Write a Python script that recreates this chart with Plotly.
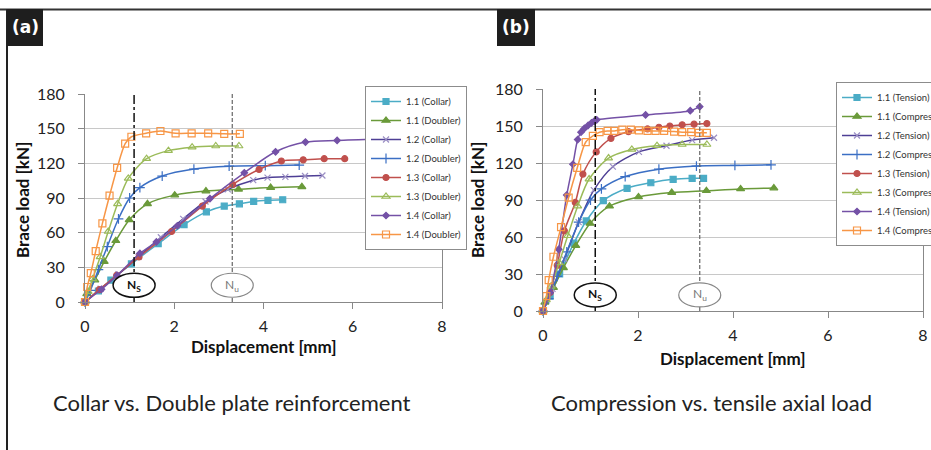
import plotly.graph_objects as go

W, H = 931, 450

# ---------------- Panel (a): Collar vs. Doubler ----------------
a_11c_x = [0, 0.3, 0.58, 1.04, 1.64, 2.22, 2.72, 3.12, 3.46, 3.78, 4.1, 4.43]
a_11c_y = [0, 9.5, 19, 33, 50.5, 67, 78, 83, 85, 87, 88, 88.5]
a_11d_x = [0, 0.04, 0.22, 0.43, 0.69, 0.99, 1.4, 2.01, 2.71, 3.44, 4.16, 4.86]
a_11d_y = [0, 7, 19, 35, 53, 71, 85, 92.5, 96, 97.5, 99, 99.7]
a_12c_x = [0, 0.35, 0.75, 1.2, 1.7, 2.2, 2.7, 3.2, 3.77, 4.09, 4.49, 4.93, 5.32]
a_12c_y = [0, 11.5, 24, 39, 56, 72, 87, 97.5, 105.4, 107.7, 108.3, 109, 109.5]
a_12d_x = [0, 0.12, 0.3, 0.5, 0.75, 1.0, 1.23, 1.73, 2.44, 3.23, 4.04, 4.8]
a_12d_y = [0, 10, 28, 48, 72, 90, 99, 109, 115, 117.5, 118, 118.5]
a_13c_x = [0, 0.32, 0.71, 1.21, 1.94, 2.63, 3.31, 3.9, 4.4, 4.89, 5.36, 5.82]
a_13c_y = [0, 10.7, 23, 39, 61, 83, 101.7, 114.7, 122, 123, 124, 124]
a_13d_x = [0, 0.07, 0.17, 0.34, 0.52, 0.73, 0.97, 1.38, 1.87, 2.4, 2.93, 3.45]
a_13d_y = [0, 9, 20, 39, 61, 85, 107, 124, 131, 134, 135, 135]
a_14c_x = [0, 0.37, 0.72, 1.23, 1.6, 2.07, 2.8, 3.57, 4.27, 4.94, 5.65, 6.6]
a_14c_y = [0, 11, 23, 42, 52, 66, 89.5, 111.8, 130, 138.4, 139.8, 141]
a_14d_x = [0, 0.05, 0.13, 0.24, 0.39, 0.55, 0.72, 0.9, 1.04, 1.37, 1.69, 2.03, 2.39, 2.76, 3.12, 3.47]
a_14d_y = [0, 13, 25, 44, 68, 92, 116, 137, 143, 146, 148, 146, 146, 146, 145.5, 145.5]

# ---------------- Panel (b): Tension vs. Compression ----------------
b_11t_x = [0, 0.15, 0.35, 0.65, 0.91, 1.27, 1.77, 2.27, 2.74, 3.14, 3.38]
b_11t_y = [0, 12, 30, 55, 73, 89.5, 99.5, 104, 106.8, 107.6, 107.6]
b_11c_x = [0, 0.04, 0.22, 0.43, 0.69, 0.99, 1.4, 2.01, 2.71, 3.44, 4.16, 4.86]
b_11c_y = [0, 7, 19, 35, 53, 71, 85, 92.5, 96, 97.5, 99, 99.7]
b_12t_x = [0, 0.2, 0.45, 0.75, 1.07, 1.47, 2.02, 2.6, 3.14, 3.6]
b_12t_y = [0, 18, 42, 72, 98, 117, 129, 134, 138.6, 140.5]
b_12c_x = [0, 0.12, 0.3, 0.5, 0.75, 1.0, 1.23, 1.73, 2.44, 3.23, 4.04, 4.8]
b_12c_y = [0, 10, 28, 48, 72, 90, 99, 109, 115, 117.5, 118, 118.5]
b_13t_x = [0, 0.15, 0.3, 0.45, 0.68, 0.84, 1.12, 1.43, 1.8, 2.2, 2.44, 2.67, 2.93, 3.18, 3.45]
b_13t_y = [0, 15, 37, 65, 88, 111, 129, 140, 145.4, 147.6, 149, 150, 151, 151.5, 152]
b_13c_x = [0, 0.07, 0.17, 0.34, 0.52, 0.73, 0.97, 1.38, 1.87, 2.4, 2.93, 3.45]
b_13c_y = [0, 9, 20, 39, 61, 85, 107, 124, 131, 134, 135, 135]
b_14t_x = [0, 0.15, 0.33, 0.5, 0.63, 0.73, 0.8, 0.87, 0.95, 1.02, 1.08, 1.13, 2.16, 3.1, 3.3]
b_14t_y = [0, 15, 50, 94, 119, 139, 145, 148, 150.5, 152.5, 154, 155, 159, 162.4, 165.7]
b_14c_x = [0, 0.07, 0.12, 0.22, 0.38, 0.54, 0.72, 0.9, 1.05, 1.19, 1.36, 1.5, 1.67, 1.85, 2.02,
           2.2, 2.37, 2.55, 2.76, 2.93, 3.12, 3.28, 3.45]
b_14c_y = [0, 12, 25, 44, 68, 92, 116, 137, 142, 145, 146, 146, 147, 147, 146.5,
           146, 146, 146, 145.5, 145, 145, 144.5, 144.5]

Ns_x = 1.1
Nu_x = 3.3

x_ticks = [0, 2, 4, 6, 8]
y_ticks = [0, 30, 60, 90, 120, 150, 180]

# styles: (line color, marker symbol, marker size, marker color)
styles = {
    "11a": ("#4bacc6", "square", 6, "#4bacc6"),
    "11b": ("#6a9a3a", "triangle-up", 7, "#6a9a3a"),
    "12a": ("#4e3f95", "x-thin", 6, "#9b8fc4"),
    "12b": ("#3b6fc4", "cross-thin", 7, "#3b6fc4"),
    "13a": ("#c0504d", "circle", 6, "#c0504d"),
    "13b": ("#9bbb59", "triangle-up-open", 7, "#9bbb59"),
    "14a": ("#7451a6", "diamond", 5, "#7451a6"),
    "14b": ("#f79646", "square-open", 7, "#f79646"),
}

fig = go.Figure()


def add(x, y, name, key, xa, ya, leg):
    lc, sym, ms, mc = styles[key]
    fig.add_trace(go.Scatter(
        x=x, y=y, name=name, mode="lines+markers",
        line=dict(color=lc, width=1.5, shape="spline", smoothing=0.8),
        marker=dict(symbol=sym, size=ms, color=mc, line=dict(color=mc, width=1.2)),
        xaxis=xa, yaxis=ya, legend=leg, cliponaxis=False,
    ))


add(a_11c_x, a_11c_y, "1.1 (Collar)", "11a", "x", "y", "legend")
add(a_11d_x, a_11d_y, "1.1 (Doubler)", "11b", "x", "y", "legend")
add(a_12c_x, a_12c_y, "1.2 (Collar)", "12a", "x", "y", "legend")
add(a_12d_x, a_12d_y, "1.2 (Doubler)", "12b", "x", "y", "legend")
add(a_13c_x, a_13c_y, "1.3 (Collar)", "13a", "x", "y", "legend")
add(a_13d_x, a_13d_y, "1.3 (Doubler)", "13b", "x", "y", "legend")
add(a_14c_x, a_14c_y, "1.4 (Collar)", "14a", "x", "y", "legend")
add(a_14d_x, a_14d_y, "1.4 (Doubler)", "14b", "x", "y", "legend")

add(b_11t_x, b_11t_y, "1.1 (Tension)", "11a", "x2", "y2", "legend2")
add(b_11c_x, b_11c_y, "1.1 (Compression)", "11b", "x2", "y2", "legend2")
add(b_12t_x, b_12t_y, "1.2 (Tension)", "12a", "x2", "y2", "legend2")
add(b_12c_x, b_12c_y, "1.2 (Compression)", "12b", "x2", "y2", "legend2")
add(b_13t_x, b_13t_y, "1.3 (Tension)", "13a", "x2", "y2", "legend2")
add(b_13c_x, b_13c_y, "1.3 (Compression)", "13b", "x2", "y2", "legend2")
add(b_14t_x, b_14t_y, "1.4 (Tension)", "14a", "x2", "y2", "legend2")
add(b_14c_x, b_14c_y, "1.4 (Compression)", "14b", "x2", "y2", "legend2")


def PX(px):
    return px / W


def PY(py):
    return 1 - py / H


tick_font = dict(family="Lato, sans-serif", size=16, color="#222")
axis_common = dict(
    range=[0, 8], tickvals=x_ticks, ticks="outside", ticklen=6, tickcolor="#888",
    showline=True, linecolor="#888", linewidth=1, showgrid=False, zeroline=False,
    tickfont=tick_font, ticklabelstandoff=4,
)
yaxis_common = dict(
    range=[0, 180], tickvals=y_ticks, ticks="outside", ticklen=6, tickcolor="#888",
    showline=True, linecolor="#888", linewidth=1, mirror=True, showgrid=True,
    gridcolor="#c8c8c8", gridwidth=1, zeroline=False, tickfont=tick_font,
    ticklabelstandoff=10,
)

legend_common = dict(
    bgcolor="white", bordercolor="#8c8c8c", borderwidth=1,
    font=dict(family="Lato, sans-serif", size=9.5, color="#333"),
    itemwidth=30, tracegroupgap=0, xanchor="left", yanchor="top",
    xref="paper", yref="paper", itemclick=False,
)

shapes = []
# frame lines
shapes.append(dict(type="line", xref="paper", yref="paper", x0=0, x1=1, y0=PY(9.5), y1=PY(9.5),
                   line=dict(color="#333", width=2)))
shapes.append(dict(type="line", xref="paper", yref="paper", x0=PX(7), x1=PX(7), y0=PY(9), y1=0,
                   line=dict(color="#222", width=2)))
# label boxes
shapes.append(dict(type="rect", xref="paper", yref="paper", x0=PX(7), x1=PX(43), y0=PY(46), y1=PY(9),
                   fillcolor="#1e1e1e", line=dict(width=0)))
shapes.append(dict(type="rect", xref="paper", yref="paper", x0=PX(497), x1=PX(535), y0=PY(46), y1=PY(9),
                   fillcolor="#1e1e1e", line=dict(width=0)))

annotations = []
for xa, ya, ns_y in (("x", "y", 14.5), ("x2", "y2", 13)):
    shapes.append(dict(type="line", xref=xa, yref=ya, x0=Ns_x, x1=Ns_x, y0=0, y1=180,
                       line=dict(color="#111", width=1.5, dash="dashdot")))
    shapes.append(dict(type="line", xref=xa, yref=ya, x0=Nu_x, x1=Nu_x, y0=0, y1=180,
                       line=dict(color="#666", width=1.2, dash="4px,2px")))
    shapes.append(dict(type="circle", xref=xa, yref=ya, xsizemode="pixel", ysizemode="pixel",
                       xanchor=Ns_x, yanchor=ns_y, x0=-21, x1=21, y0=-12, y1=12,
                       fillcolor="white", line=dict(color="#111", width=1.5)))
    shapes.append(dict(type="circle", xref=xa, yref=ya, xsizemode="pixel", ysizemode="pixel",
                       xanchor=Nu_x, yanchor=ns_y, x0=-21, x1=21, y0=-12, y1=12,
                       fillcolor="white", line=dict(color="#888", width=1.2)))
    annotations.append(dict(xref=xa, yref=ya, x=Ns_x, y=ns_y, showarrow=False,
                            xanchor="center", yanchor="middle",
                            text="<b>N<sub>S</sub></b>",
                            font=dict(family="Lato, sans-serif", size=12, color="#111")))
    annotations.append(dict(xref=xa, yref=ya, x=Nu_x, y=ns_y, showarrow=False,
                            xanchor="center", yanchor="middle",
                            text="N<sub>u</sub>",
                            font=dict(family="Lato, sans-serif", size=12, color="#777")))


def note(x, y, text, font, angle=0):
    return dict(xref="paper", yref="paper", x=PX(x), y=PY(y), text=text, showarrow=False,
                xanchor="center", yanchor="middle", textangle=angle, font=font)


title_font = dict(family="Lato, sans-serif", size=17, color="#111")
sub_font = dict(family="Lato, sans-serif", size=22, color="#222")
lab_font = dict(family="DejaVu Sans, sans-serif", size=17, color="white")
annotations += [
    note(25, 27, "<b>(a)</b>", lab_font),
    note(516, 27, "<b>(b)</b>", lab_font),
    note(22, 200, "<b>Brace load [kN]</b>", title_font, -90),
    note(477, 200, "<b>Brace load [kN]</b>", title_font, -90),
    note(264, 346, "<b>Displacement [mm]</b>", title_font),
    note(733, 358, "<b>Displacement [mm]</b>", title_font),
    note(232, 402, "Collar vs. Double plate reinforcement", sub_font),
    note(711, 402, "Compression vs. tensile axial load", sub_font),
]

fig.update_layout(
    width=W, height=H,
    margin=dict(l=0, r=0, t=0, b=0, autoexpand=False),
    paper_bgcolor="white", plot_bgcolor="white",
    xaxis=dict(domain=[PX(85), PX(442)], anchor="y", **axis_common),
    yaxis=dict(domain=[PY(302), PY(94)], anchor="x", **yaxis_common),
    xaxis2=dict(domain=[PX(543), PX(923)], anchor="y2", **axis_common),
    yaxis2=dict(domain=[PY(311), PY(89)], anchor="x2", **yaxis_common),
    legend=dict(x=PX(365), y=PY(86), **legend_common),
    legend2=dict(x=PX(836), y=PY(82), **legend_common),
    shapes=shapes,
    annotations=annotations,
    showlegend=True,
)

fig.write_html(
    "out.html",
    config={"displayModeBar": False},
    post_script="document.body.style.margin='0';document.body.style.overflow='hidden';",
)
